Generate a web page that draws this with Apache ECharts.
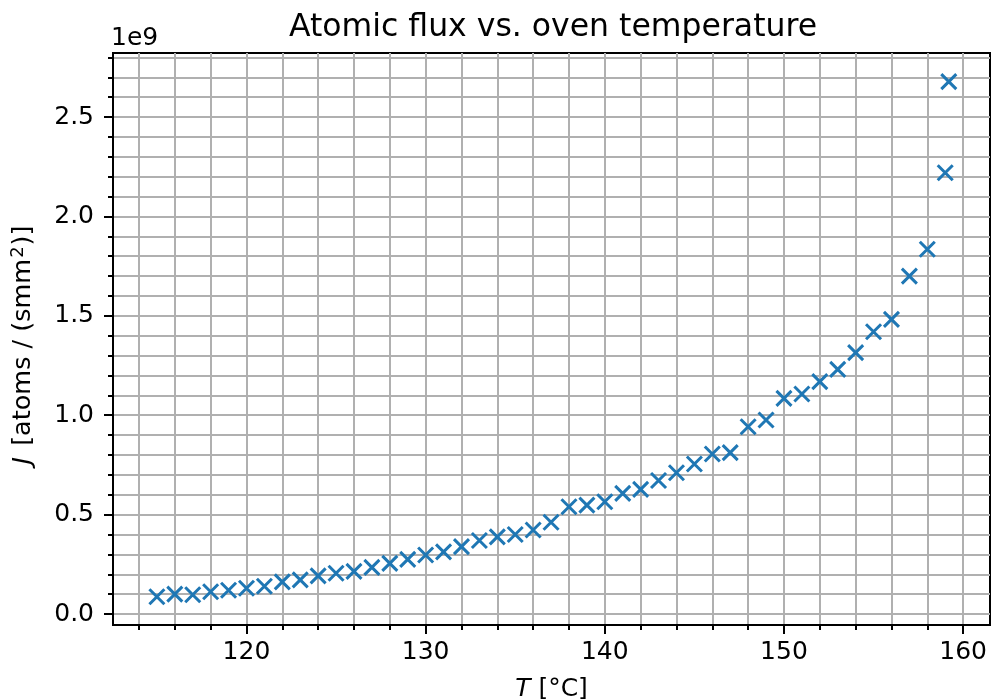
<!DOCTYPE html>
<html>
<head>
<meta charset="utf-8">
<script src="https://cdn.jsdelivr.net/npm/echarts@6/dist/echarts.min.js"></script>
<style>
  html, body { margin: 0; padding: 0; background: #fff; }
  #chart { width: 991px; height: 700px; }
</style>
</head>
<body>
<div id="chart"></div>
<script>
// Oven temperature in °C
const temperature = [
  115, 116, 117, 118, 119, 120, 121, 122, 123, 124,
  125, 126, 127, 128, 129, 130, 131, 132, 133, 134,
  135, 136, 137, 138, 139, 140, 141, 142, 143, 144,
  145, 146, 147, 148, 149, 150, 151, 152, 153, 154,
  155, 156, 157, 158, 159.0, 159.2
];
// Atomic flux J in units of 1e9 atoms / (s mm^2)
const flux1e9 = [
  0.087, 0.100, 0.097, 0.112, 0.120, 0.130, 0.140, 0.162, 0.172, 0.192,
  0.205, 0.215, 0.235, 0.255, 0.275, 0.297, 0.313, 0.339, 0.370, 0.388,
  0.400, 0.423, 0.462, 0.540, 0.548, 0.565, 0.607, 0.627, 0.672, 0.711,
  0.755, 0.805, 0.812, 0.942, 0.976, 1.085, 1.107, 1.169, 1.231, 1.315,
  1.420, 1.482, 1.700, 1.835, 2.220, 2.678
];

const xMajorTicks = [120, 130, 140, 150, 160];
const xMinorTicks = [114, 116, 118, 120, 122, 124, 126, 128, 130, 132, 134, 136, 138, 140,
                     142, 144, 146, 148, 150, 152, 154, 156, 158, 160];
const yMajorTicks = [0, 0.5, 1.0, 1.5, 2.0, 2.5];
const yMinorTicks = [0, 0.1, 0.2, 0.3, 0.4, 0.5, 0.6, 0.7, 0.8, 0.9, 1.0, 1.1, 1.2, 1.3,
                     1.4, 1.5, 1.6, 1.7, 1.8, 1.9, 2.0, 2.1, 2.2, 2.3, 2.4, 2.5, 2.6, 2.7, 2.8];

const X_MIN = 112.55, X_MAX = 161.5;
const Y_MIN = -0.055, Y_MAX = 2.822;

const FONT = 'DejaVu Sans';
const BLUE = '#1f77b4';
const GRID_LINE = { color: '#b0b0b0', width: 2 };

const points = temperature.map((t, i) => [t, flux1e9[i]]);

const chart = echarts.init(document.getElementById('chart'), null, { renderer: 'canvas' });

function majorAxis(extra) {
  return Object.assign({
    type: 'value',
    gridIndex: 0,
    axisLine: { show: true, onZero: false, lineStyle: { color: '#000', width: 2 } },
    splitLine: { show: true, lineStyle: GRID_LINE },
    minorTick: { show: false },
    minorSplitLine: { show: false }
  }, extra);
}
function minorAxis(extra) {
  return Object.assign({
    type: 'value',
    gridIndex: 0,
    axisLine: { show: false, onZero: false },
    axisLabel: { show: false },
    splitLine: { show: true, lineStyle: GRID_LINE },
    minorTick: { show: false },
    minorSplitLine: { show: false }
  }, extra);
}

chart.setOption({
  animation: false,
  backgroundColor: '#fff',
  textStyle: { fontFamily: FONT },
  title: {
    text: 'Atomic flux vs. oven temperature',
    left: 548,
    textAlign: 'center',
    top: 7,
    textStyle: { fontFamily: FONT, fontSize: 31.5, fontWeight: 'normal', color: '#000' }
  },
  graphic: [{
    type: 'text',
    left: 111,
    top: 26,
    style: { text: '1e9', font: '25px "DejaVu Sans"', fill: '#000' }
  }],
  grid: {
    left: 113, right: 1, top: 53, bottom: 75,
    outerBoundsMode: 'none',
    containLabel: false,
    show: true, borderColor: '#000', borderWidth: 2, backgroundColor: 'transparent'
  },
  xAxis: [
    minorAxis({
      position: 'bottom', min: X_MIN, max: X_MAX,
      axisTick: { show: true, customValues: xMinorTicks, length: 5, lineStyle: { color: '#000', width: 2 } },
      axisLabel: { show: false, customValues: xMinorTicks }
    }),
    majorAxis({
      position: 'bottom', min: X_MIN, max: X_MAX,
      axisTick: { show: true, customValues: xMajorTicks, length: 9, lineStyle: { color: '#000', width: 2 } },
      axisLabel: {
        customValues: xMajorTicks, margin: 15,
        fontFamily: FONT, fontSize: 25, color: '#000',
        formatter: v => String(Math.round(v))
      },
      name: '{i|T} [°C]',
      nameLocation: 'middle',
      nameGap: 52,
      nameTextStyle: {
        fontFamily: FONT, fontSize: 25, color: '#000',
        rich: { i: { fontFamily: FONT, fontSize: 25, fontStyle: 'italic', color: '#000' } }
      }
    })
  ],
  yAxis: [
    minorAxis({
      position: 'left', min: Y_MIN, max: Y_MAX,
      axisTick: { show: true, customValues: yMinorTicks, length: 5, lineStyle: { color: '#000', width: 2 } },
      axisLabel: { show: false, customValues: yMinorTicks }
    }),
    majorAxis({
      position: 'left', min: Y_MIN, max: Y_MAX,
      axisTick: { show: true, customValues: yMajorTicks, length: 9, lineStyle: { color: '#000', width: 2 } },
      axisLabel: {
        customValues: yMajorTicks, margin: 19,
        fontFamily: FONT, fontSize: 25, color: '#000',
        formatter: v => v.toFixed(1)
      },
      name: '{i|J} [atoms / (smm{sup|2})]',
      nameLocation: 'middle',
      nameRotate: 90,
      nameGap: 76,
      nameTextStyle: {
        fontFamily: FONT, fontSize: 25.5, color: '#000',
        padding: [0, 12, 0, 0],
        rich: {
          i: { fontFamily: FONT, fontSize: 25.5, fontStyle: 'italic', color: '#000', padding: [0, 3, 0, 0] },
          sup: { fontFamily: FONT, fontSize: 18, color: '#000', verticalAlign: 'top', padding: [0, 1, 10, 1] }
        }
      }
    })
  ],
  series: [{
    type: 'scatter',
    xAxisIndex: 1,
    yAxisIndex: 1,
    data: points,
    symbol: 'path://M0,0L10,10M10,0L0,10',
    symbolSize: 15,
    itemStyle: { color: 'rgba(0,0,0,0)', borderColor: BLUE, borderWidth: 3, opacity: 1 },
    z: 5
  }]
});
</script>
</body>
</html>
